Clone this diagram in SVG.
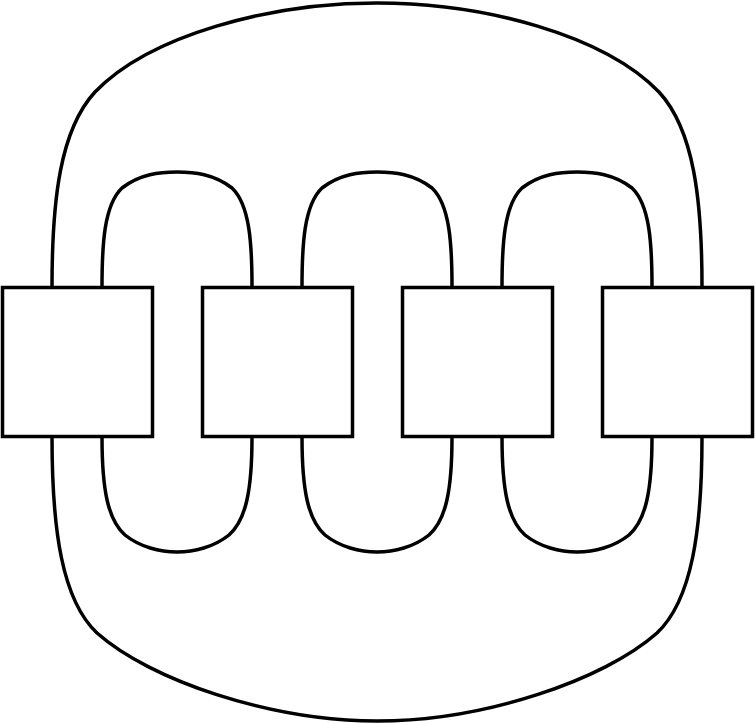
<svg xmlns="http://www.w3.org/2000/svg" width="755" height="724" viewBox="0 0 755 724">
<style>
.n{fill:#fff;stroke:#000;stroke-width:3.5}
.e{fill:none;stroke:#000;stroke-width:3.5}
</style>
<rect width="755" height="724" fill="#fff"/>
<g id="connectors">
<path class="e" d="M52,287 C52,200 60,130 95,92 C150,35 270,3 377,3 C484,3 604,35 659,92 C694,130 702,200 702,287"/>
<path class="e" d="M52,437 C52,530 62,600 97,633 C150,680 270,721 377,721 C484,721 604,680 657,633 C692,600 702,530 702,437"/>
<path class="e" d="M102,287 C102,245 104,205 122,188 C140,174 160,172 177,172 C194,172 214,174 232,188 C250,205 252,245 252,287"/>
<path class="e" d="M302,287 C302,245 304,205 322,188 C340,174 360,172 377,172 C394,172 414,174 432,188 C450,205 452,245 452,287"/>
<path class="e" d="M502,287 C502,245 504,205 522,188 C540,174 560,172 577,172 C594,172 614,174 632,188 C650,205 652,245 652,287"/>
<path class="e" d="M102,437 C102,490 108,520 125,535 C140,547 160,552 177,552 C194,552 214,547 229,535 C246,520 252,490 252,437"/>
<path class="e" d="M302,437 C302,490 308,520 325,535 C340,547 360,552 377,552 C394,552 414,547 429,535 C446,520 452,490 452,437"/>
<path class="e" d="M502,437 C502,490 508,520 525,535 C540,547 560,552 577,552 C594,552 614,547 629,535 C646,520 652,490 652,437"/>
</g>
<g id="n1"><rect class="n" x="2.5" y="287.5" width="150" height="149"/></g>
<g id="n2"><rect class="n" x="202.5" y="287.5" width="150" height="149"/></g>
<g id="n3"><rect class="n" x="402.5" y="287.5" width="150" height="149"/></g>
<g id="n4"><rect class="n" x="602.5" y="287.5" width="150" height="149"/></g>
</svg>
